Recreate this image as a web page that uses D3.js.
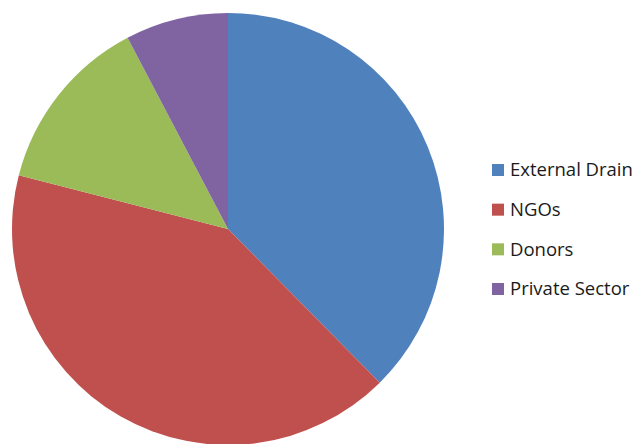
<!DOCTYPE html>
<html>
<head>
<meta charset="utf-8">
<script src="https://cdn.jsdelivr.net/npm/d3@7"></script>
<style>
html,body{margin:0;padding:0;background:#fff;}
svg{display:block;}
</style>
</head>
<body>
<svg id="chart" width="644" height="444"></svg>
<script>
const categories = ["External Drain", "NGOs", "Donors", "Private Sector"];
const values = [37.6, 41.4, 13.3, 7.7];
const colors = ["#4F81BD", "#C0504D", "#9BBB59", "#8064A2"];

const svg = d3.select("#chart");
const cx = 228, cy = 229, r = 216;

const pie = d3.pie().sort(null).value(d => d.v);
const arc = d3.arc().innerRadius(0).outerRadius(r);
const data = categories.map((c, i) => ({c, v: values[i], col: colors[i]}));

svg.append("g").attr("transform", `translate(${cx},${cy})`)
  .selectAll("path").data(pie(data)).join("path")
  .attr("d", arc).attr("fill", d => d.data.col);

const ly = d3.scalePoint().domain(categories).range([170, 289]);
const lg = svg.append("g").selectAll("g").data(data).join("g")
  .attr("transform", d => `translate(492,${ly(d.c)})`);
lg.append("rect").attr("x", 0).attr("y", -6).attr("width", 12).attr("height", 12).attr("fill", d => d.col);
lg.append("text").attr("x", 18).attr("y", 0).attr("dy", "0.35em")
  .attr("font-family", "Open Sans, sans-serif").attr("font-size", 18.5).attr("fill", "#1a1a1a")
  .text(d => d.c);
</script>
</body>
</html>
